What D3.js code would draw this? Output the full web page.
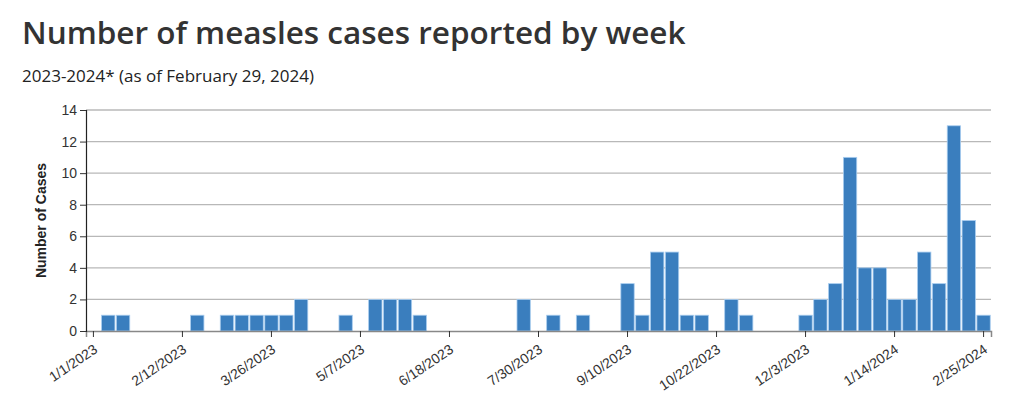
<!DOCTYPE html>
<html>
<head>
<meta charset="utf-8">
<script src="https://cdn.jsdelivr.net/npm/d3@7"></script>
<style>
  html, body { margin: 0; padding: 0; background: #fff; }
  svg { display: block; }
</style>
</head>
<body>
<svg id="chart" width="1024" height="402"></svg>
<script>
const title = "Number of measles cases reported by week";
const subtitle = "2023-2024* (as of February 29, 2024)";
const yAxisTitle = "Number of Cases";
const startWeek = "2023-01-01";
const weeklyCases = [0,1,1,0,0,0,0,1,0,1,1,1,1,1,2,0,0,1,0,2,2,2,1,0,0,0,0,0,0,2,0,1,0,1,0,0,3,1,5,5,1,1,0,2,1,0,0,0,1,2,3,11,4,4,2,2,5,3,13,7,1];
const yTicks = [0,2,4,6,8,10,12,14];
const xTickLabels = ["1/1/2023","2/12/2023","3/26/2023","5/7/2023","6/18/2023","7/30/2023","9/10/2023","10/22/2023","12/3/2023","1/14/2024","2/25/2024"];

const parse = d3.timeParse("%Y-%m-%d");
const fmt = d => (d.getMonth()+1) + "/" + d.getDate() + "/" + d.getFullYear();
const start = parse(startWeek);
const data = weeklyCases.map((v, i) => ({ date: fmt(d3.timeDay.offset(start, 7*i)), value: v }));

const svg = d3.select("#chart");
const margin = { left: 86, right: 33, top: 110, bottom: 71 };
const W = 1024, H = 402;

const x = d3.scaleBand().domain(data.map(d => d.date)).range([margin.left, W - margin.right]).padding(0);
const y = d3.scaleLinear().domain([0, 14]).range([H - margin.bottom, margin.top]);

svg.append("text").attr("x", 22).attr("y", 44)
  .attr("font-family", "'Open Sans', 'Noto Sans', sans-serif").attr("font-size", 31.5)
  .attr("font-weight", 600)
  .attr("fill", "#333").text(title);
svg.append("text").attr("x", 22).attr("y", 82)
  .attr("font-family", "'Open Sans', 'Noto Sans', sans-serif").attr("font-size", 17)
  .attr("fill", "#222").text(subtitle);

// gridlines
svg.append("g").selectAll("line").data(yTicks.filter(t => t > 0)).join("line")
  .attr("x1", margin.left).attr("x2", W - margin.right)
  .attr("y1", d => y(d)).attr("y2", d => y(d))
  .attr("stroke", "#b8b8b8").attr("stroke-width", 1.3);

// bars
svg.append("g").selectAll("rect").data(data.filter(d => d.value > 0)).join("rect")
  .attr("x", d => x(d.date) + 0.75)
  .attr("width", x.bandwidth() - 1.5)
  .attr("y", d => y(d.value))
  .attr("height", d => y(0) - y(d.value))
  .attr("fill", "#3a7ebe")
  .attr("stroke", "#a9cdef").attr("stroke-width", 0.8);

// x axis
const xAxis = d3.axisBottom(x).tickValues(xTickLabels).tickSize(6).tickPadding(4);
const gx = svg.append("g").attr("transform", `translate(0,${y(0)})`).call(xAxis);
gx.select(".domain").attr("stroke", "#888").attr("stroke-width", 1.5);
gx.selectAll(".tick line").attr("stroke", "#333");
gx.selectAll(".tick text")
  .attr("font-family", "'Liberation Sans', Arial, sans-serif").attr("font-size", 14).attr("fill", "#333")
  .attr("text-anchor", "end").attr("dy", "0.3em")
  .attr("transform", "translate(-3,9) rotate(-34)");

// y axis
const yAxis = d3.axisLeft(y).tickValues(yTicks).tickSize(6).tickPadding(3);
const gy = svg.append("g").attr("transform", `translate(${margin.left},0)`).call(yAxis);
gy.select(".domain").attr("stroke", "#222").attr("stroke-width", 1.2);
gy.selectAll(".tick line").attr("stroke", "#333");
gy.selectAll(".tick text")
  .attr("font-family", "'Liberation Sans', Arial, sans-serif").attr("font-size", 14).attr("fill", "#333");

svg.append("text")
  .attr("transform", `translate(46,${(y(0)+y(14))/2}) rotate(-90)`)
  .attr("text-anchor", "middle")
  .attr("font-family", "'Liberation Sans', Arial, sans-serif").attr("font-size", 14)
  .attr("font-weight", "bold").attr("fill", "#222").text(yAxisTitle);
</script>
</body>
</html>
